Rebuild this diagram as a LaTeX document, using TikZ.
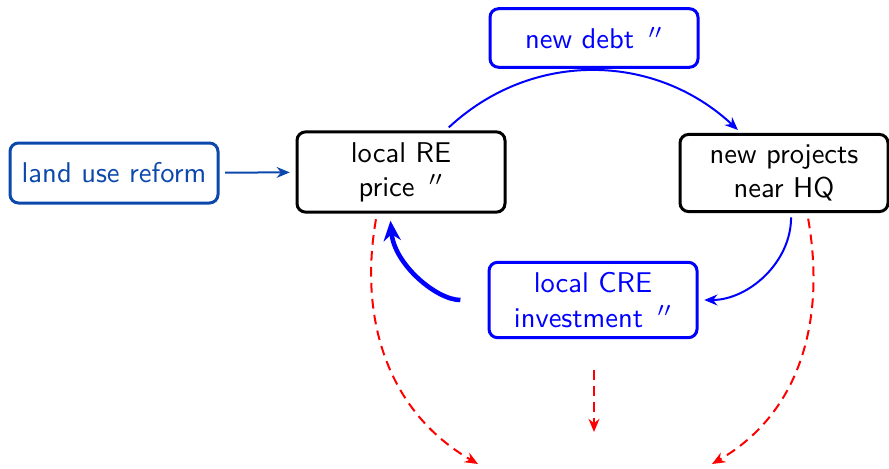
\documentclass[tikz,border=0pt]{standalone}
\usetikzlibrary{arrows.meta}
\renewcommand{\familydefault}{\sfdefault}
\definecolor{landblue}{RGB}{12,72,172}
\begin{document}
\begin{tikzpicture}[x=0.35pt,y=-0.35pt,
  box/.style={draw, line width=1.05pt, rounded corners=3pt, minimum width=72.8pt, align=center, inner xsep=3pt, inner ysep=3.6pt, font=\sffamily},
  onebox/.style={box, minimum height=20.5pt},
  tip/.style={-{Stealth[length=4.6pt,width=3.8pt]}},
  barrow/.style={tip, draw=blue, line width=0.7pt},
  rarrow/.style={tip, draw=red, line width=0.7pt, dash pattern=on 3.4pt off 2.2pt},
]
\useasboundingbox (0,0) rectangle (889,468);
\node[onebox, draw=landblue, text=landblue, minimum height=21pt] (lur) at (114,173) {land use reform};
\node[box] (re) at (401,172) {local RE\\price \,$''$};
\node[box] (np) at (784,173) {new projects\\near HQ};
\node[onebox, draw=blue, text=blue] (nd) at (594,38) {new debt \,$''$};
\node[box, draw=blue, text=blue] (cre) at (593,300) {local CRE\\investment \,$''$};
\coordinate (tl) at (478,464);
\coordinate (tm) at (594,432);
\coordinate (tr) at (712,464);
\coordinate (sm) at (594,370);

\draw[tip, draw=landblue, line width=0.7pt, shorten <=2pt, shorten >=2pt] (lur) -- (re);
\draw[barrow, shorten <=1.5pt, shorten >=1.5pt] (re) to[out=43,in=137,looseness=1.02] (np);
\draw[barrow, shorten <=1.5pt, shorten >=2pt] (np.-80) to[out=-90,in=0] (cre.east);
\draw[-{Stealth[length=7pt,width=6pt]}, draw=blue, line width=1.6pt, shorten <=9.5pt, shorten >=2.5pt] (cre.west) to[out=180,in=-85] (re.-105);
\draw[rarrow, shorten <=2pt] (re.-120) to[out=-100,in=150] (tl);
\draw[rarrow, shorten <=2pt] (np.-60) to[out=-80,in=30] (tr);
\draw[rarrow] (sm) -- (tm);
\end{tikzpicture}
\end{document}
